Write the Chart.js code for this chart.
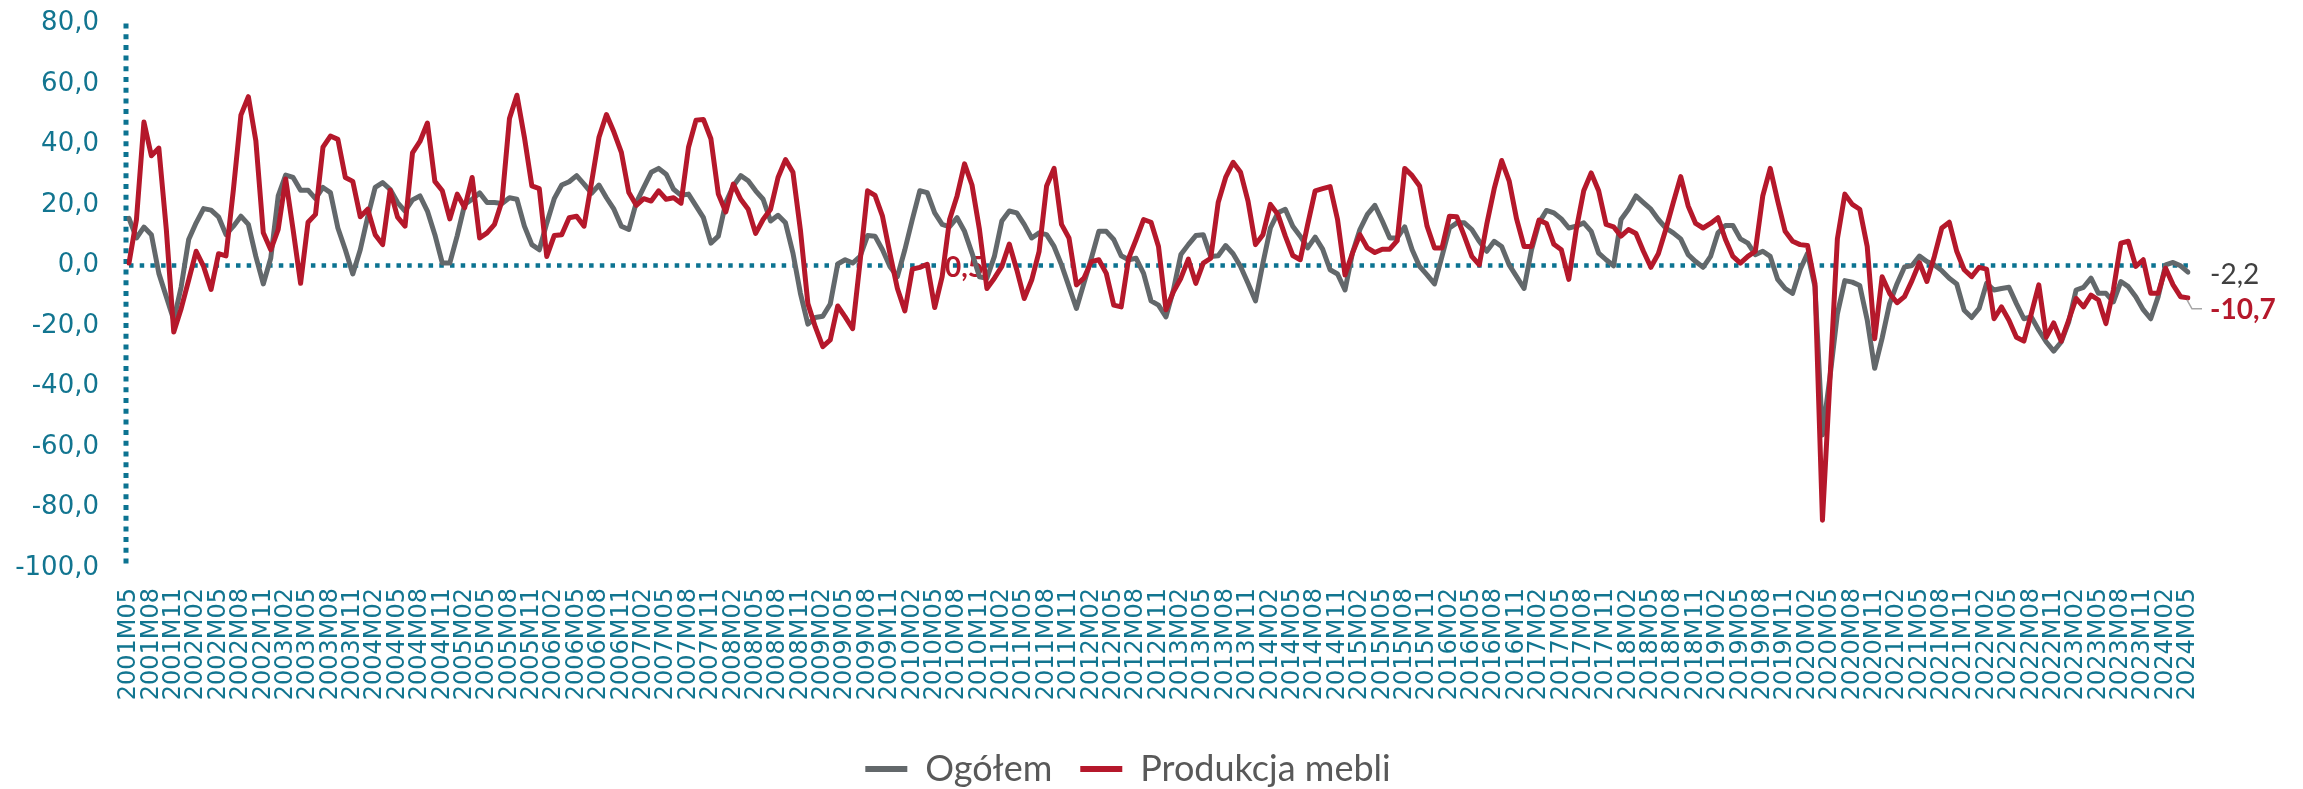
<!DOCTYPE html>
<html>
<head>
<meta charset="utf-8">
<script src="https://cdn.jsdelivr.net/npm/chart.js@4.4.1/dist/chart.umd.min.js"></script>
<style>
html, body { margin: 0; padding: 0; background: #fff; }
#wrap { width: 2303px; height: 789px; position: relative; }
</style>
</head>
<body>
<div id="wrap"><canvas id="chart"></canvas></div>
<script>
// months 2001M05 .. 2024M05
var months = [];
for (var i = 0; i < 277; i++) {
    var mm = 4 + i;
    var yr = 2001 + Math.floor(mm / 12);
    var mo = (mm % 12) + 1;
    months.push(yr + "M" + (mo < 10 ? "0" + mo : mo));
}

var ogolem = [
    15.6, 9.1, 12.7, 10.2, -2.6, -10.3, -18, -7, 8.6, 14.1, 18.8, 18.3,
    16.1, 10.2, 13, 16.3, 13.6, 3, -6.1, 2.4, 23, 29.9, 29.1, 24.9,
    24.9, 22.1, 25.8, 24.1, 12.4, 5.2, -2.8, 5.2, 16.1, 25.8, 27.4, 25.2,
    20.8, 18, 21.7, 23, 18, 10.2, 0.8, 0.8, 9.9, 20.2, 21.9, 24,
    20.8, 20.8, 20.5, 22.4, 21.9, 13, 6.9, 5.2, 14, 22.1, 26.6, 27.7,
    29.7, 26.9, 23.9, 26.6, 22.4, 18.6, 13, 11.9, 20.8, 25.8, 30.8, 32.1,
    30.2, 25.2, 23.2, 23.6, 19.7, 15.8, 7.4, 9.7, 20.8, 26.3, 29.7, 28,
    24.7, 21.9, 14.7, 16.6, 14.1, 4.1, -9.2, -19.4, -17.2, -16.8, -12.7, 0.5,
    1.9, 0.8, 3, 9.9, 9.7, 5.2, -0.3, -3.7, 5.2, 15.2, 24.7, 24.1,
    17.4, 13.6, 12.8, 15.8, 11.3, 4.1, -3.7, -4.2, 3, 14.7, 18, 17.4,
    13.6, 9.1, 10.8, 10.2, 6.3, 0.2, -7, -14.2, -5.9, 2.4, 11.3, 11.3,
    8.6, 3.2, 1.9, 2.4, -2.6, -11.7, -13.1, -17, -8.1, 3.6, 6.9, 9.9,
    10.2, 3, 3.2, 6.6, 3.9, -0.3, -5.9, -11.7, 0.8, 12.4, 17.4, 18.6,
    13, 9.7, 5.8, 9.4, 5.4, -1.4, -2.8, -8.1, 4.1, 11.9, 16.9, 19.9,
    14.7, 9.1, 9.1, 12.8, 5.2, -0.3, -3.1, -6.1, 3, 12.4, 14.1, 14.1,
    11.9, 8, 4.7, 8, 6.3, 0.2, -3.7, -7.6, 5.2, 14.1, 18.2, 17.4,
    15.4, 12.4, 13, 14.1, 11.3, 4.1, 1.9, -0.1, 15.2, 18.6, 23, 20.8,
    18.6, 15.2, 12.4, 10.8, 8.8, 3.6, 1.3, -0.6, 3, 10.8, 13.2, 13.2,
    8.8, 7.4, 3.6, 4.7, 3, -4.6, -7.6, -9.2, -1.4, 4, -7, -56,
    -37, -16, -5, -5.5, -6.6, -18, -34, -24, -12.6, -6, -0.5, 0,
    3.1, 1.3, 0.2, -1.7, -4.2, -6.1, -14.8, -17.2, -14.2, -5.9, -8.1, -7.6,
    -7.2, -12.6, -17.6, -17, -21.4, -25.3, -28.3, -25.3, -18.7, -8.1, -7.2, -4.2,
    -9.2, -9.2, -12, -5.3, -7, -10.3, -14.6, -17.6, -10.3, 0.2, 1, -0.1,
    -2.2
];

var meble = [
    0.8, 15.2, 47.4, 36.3, 38.8, 12, -22, -14.2, -4.8, 4.7, -0.3, -7.9,
    3.9, 3.2, 25.2, 49.7, 55.8, 41.3, 10.8, 5.2, 11.9, 28.6, 11.8, -5.9,
    14.3, 16.9, 39.1, 42.8, 41.7, 29.1, 27.8, 16.1, 18.6, 10.2, 6.9, 24.9,
    16, 13, 37.2, 41, 47.1, 27.8, 24.7, 15.4, 23.6, 19.1, 29.1, 9.1,
    10.8, 13.6, 21.3, 48.6, 56.3, 42.4, 26.3, 25.4, 3, 9.9, 10.2, 15.8,
    16.3, 13, 27.4, 42.4, 49.9, 44.1, 37.4, 24.1, 19.9, 22.1, 21.3, 24.7,
    21.9, 22.4, 20.6, 39.1, 48, 48.3, 41.9, 23.6, 17.7, 26.9, 21.9, 18.6,
    10.6, 15.2, 18.6, 29.1, 35, 30.8, 11.7, -12.6, -20.3, -26.8, -24.6, -13.4,
    -17, -20.9, 1.3, 24.7, 23.2, 16.3, 4, -7.6, -15, -1.2, -0.6, 0.4,
    -13.9, -3.7, 15.2, 23, 33.6, 26.6, 11.9, -7.6, -4.2, -0.3, 7.1, -1.4,
    -10.9, -4.8, 4.7, 26.3, 32.1, 13.6, 9.1, -6.4, -4.2, 1.3, 1.9, -2.6,
    -13.1, -13.7, 2.4, 8.6, 15.2, 14.3, 6.3, -14.6, -8.7, -4.2, 2.1, -5.9,
    0.8, 2.4, 20.8, 29.1, 34.1, 30.8, 21.3, 6.9, 10.2, 20.2, 16.9, 9.7,
    3.3, 1.9, 13.6, 24.7, 25.4, 26.1, 15.2, -3.1, 4.1, 10.2, 5.8, 4.3,
    5.4, 5.4, 8.2, 32.1, 29.7, 26.3, 13, 5.8, 5.8, 16.3, 16.1, 9.7,
    3, 0.2, 13.6, 25.4, 34.7, 28, 15.4, 6.3, 6.3, 15, 13.9, 7,
    5.2, -4.6, 11.9, 24.7, 30.6, 24.7, 13.6, 12.8, 9.7, 11.9, 10.6, 4.7,
    -0.6, 3.9, 11.9, 20.8, 29.4, 19.7, 13.9, 12.4, 13.9, 15.8, 8.6, 3,
    0.8, 3, 4.7, 23, 32.1, 21.3, 11.3, 8, 6.9, 6.6, -6, -84.2,
    -38, 8.8, 23.6, 20.2, 18.6, 6.3, -24.2, -3.7, -9.2, -12.3, -10.3, -5,
    1, -5.3, 3, 12.4, 14.3, 4.7, -1.4, -3.7, -0.6, -1.2, -17.6, -13.7,
    -18.1, -23.7, -25, -15.9, -6.4, -23.7, -19, -25, -18.1, -10.9, -13.7, -9.8,
    -11.4, -19.2, -8.1, 7.4, 8, -0.3, 1.9, -9.2, -9.2, -0.9, -6.4, -10.3,
    -10.7
];

var seriesNames = ["Ogółem", "Produkcja mebli"];
var seriesColors = ["#63686B", "#B5182B"];
var tealColor = "#127590";
var dotColor = "#0C7391";

// stray data label in the original, sits on the zero line
var noteIndex = 112;
var noteText = "0,5";

function fmt(v) {
    return v.toFixed(1).replace(".", ",");
}

var guides = {
    id: "guides",
    beforeDatasetsDraw: function(chart) {
        var ctx = chart.ctx;
        var area = chart.chartArea;
        var y0 = chart.scales.y.getPixelForValue(0);
        ctx.save();
        ctx.strokeStyle = dotColor;
        ctx.lineWidth = 5;
        ctx.setLineDash([5, 5.7]);
        ctx.beginPath();
        ctx.moveTo(area.left - 3, area.top);
        ctx.lineTo(area.left - 3, area.bottom);
        ctx.stroke();
        ctx.lineWidth = 4.5;
        ctx.setLineDash([4.5, 6.2]);
        ctx.beginPath();
        ctx.moveTo(area.left, y0);
        ctx.lineTo(area.right + 2, y0);
        ctx.stroke();
        ctx.setLineDash([]);
        ctx.fillStyle = seriesColors[1];
        ctx.font = "bold 28px Lato";
        ctx.textAlign = "center";
        ctx.textBaseline = "middle";
        ctx.fillText(noteText, chart.scales.x.getPixelForValue(noteIndex), y0 + 2);
        ctx.restore();
    },
    afterDatasetsDraw: function(chart) {
        var ctx = chart.ctx;
        var area = chart.chartArea;
        var ys = chart.scales.y;
        var gy = ys.getPixelForValue(ogolem[ogolem.length - 1]);
        var ry = ys.getPixelForValue(meble[meble.length - 1]);
        ctx.save();
        ctx.strokeStyle = "#A6A6A6";
        ctx.lineWidth = 1.5;
        ctx.beginPath();
        ctx.moveTo(area.right - 1, ry + 2);
        ctx.lineTo(area.right + 4, ry + 11);
        ctx.lineTo(area.right + 14, ry + 11);
        ctx.stroke();
        ctx.textAlign = "left";
        ctx.textBaseline = "middle";
        ctx.fillStyle = "#404040";
        ctx.font = "28px Lato";
        ctx.fillText(fmt(ogolem[ogolem.length - 1]), area.right + 22, gy + 3);
        ctx.fillStyle = seriesColors[1];
        ctx.font = "bold 28px Lato";
        ctx.fillText(fmt(meble[meble.length - 1]), area.right + 22, ry + 12);
        ctx.restore();
    }
};

var legendShift = {
    id: "legendShift",
    afterLayout: function(chart) {
        var l = chart.legend;
        l.left += 34;
        l.right += 34;
        l.top += 8;
        l.bottom += 8;
    }
};

var ctx = document.getElementById("chart").getContext("2d");

const chart = new Chart(ctx, {
    type: "line",
    data: {
        labels: months,
        datasets: [{
            label: seriesNames[0],
            data: ogolem,
            borderColor: seriesColors[0],
            backgroundColor: seriesColors[0],
            borderWidth: 5,
            pointRadius: 0,
            tension: 0,
            borderJoinStyle: "round",
            borderCapStyle: "round",
            order: 2
        }, {
            label: seriesNames[1],
            data: meble,
            borderColor: seriesColors[1],
            backgroundColor: seriesColors[1],
            borderWidth: 5,
            pointRadius: 0,
            tension: 0,
            borderJoinStyle: "round",
            borderCapStyle: "round",
            order: 1
        }]
    },
    options: {
        responsive: true,
        maintainAspectRatio: false,
        animation: false,
        layout: { autoPadding: false, padding: { top: 23.5, right: 115, bottom: 0, left: 0 } },
        plugins: {
            tooltip: { enabled: false },
            legend: {
                position: "bottom",
                labels: {
                    boxWidth: 42,
                    boxHeight: 6,
                    padding: 28,
                    color: "#595959",
                    font: { family: "Lato", size: 36 },
                    sort: function(a, b) { return a.datasetIndex - b.datasetIndex; },
                    generateLabels: function(chart) {
                        return chart.data.datasets.map(function(ds, i) {
                            return {
                                text: ds.label,
                                fillStyle: ds.borderColor,
                                strokeStyle: ds.borderColor,
                                lineWidth: 0,
                                datasetIndex: i,
                                fontColor: "#595959"
                            };
                        });
                    }
                }
            }
        },
        scales: {
            x: {
                type: "category",
                offset: false,
                grid: { display: false, drawTicks: false },
                border: { display: false },
                ticks: {
                    autoSkip: false,
                    minRotation: 90,
                    maxRotation: 90,
                    padding: 20,
                    color: tealColor,
                    font: { family: "DejaVu Sans", size: 24 },
                    callback: function(value, index) {
                        return index % 3 === 0 ? months[index] : "";
                    }
                },
                afterFit: function(scale) {
                    scale.height = 147;
                    scale.paddingLeft = 0;
                    scale.paddingRight = 0;
                }
            },
            y: {
                min: -100,
                max: 80,
                grid: { display: false, drawTicks: false },
                border: { display: false },
                ticks: {
                    stepSize: 20,
                    padding: 30,
                    color: tealColor,
                    font: { family: "DejaVu Sans", size: 26 },
                    callback: function(value) { return fmt(value); }
                },
                afterFit: function(scale) {
                    scale.width = 129;
                    scale.paddingTop = 0;
                    scale.paddingBottom = 0;
                }
            }
        }
    },
    plugins: [guides, legendShift]
});
</script>
</body>
</html>
